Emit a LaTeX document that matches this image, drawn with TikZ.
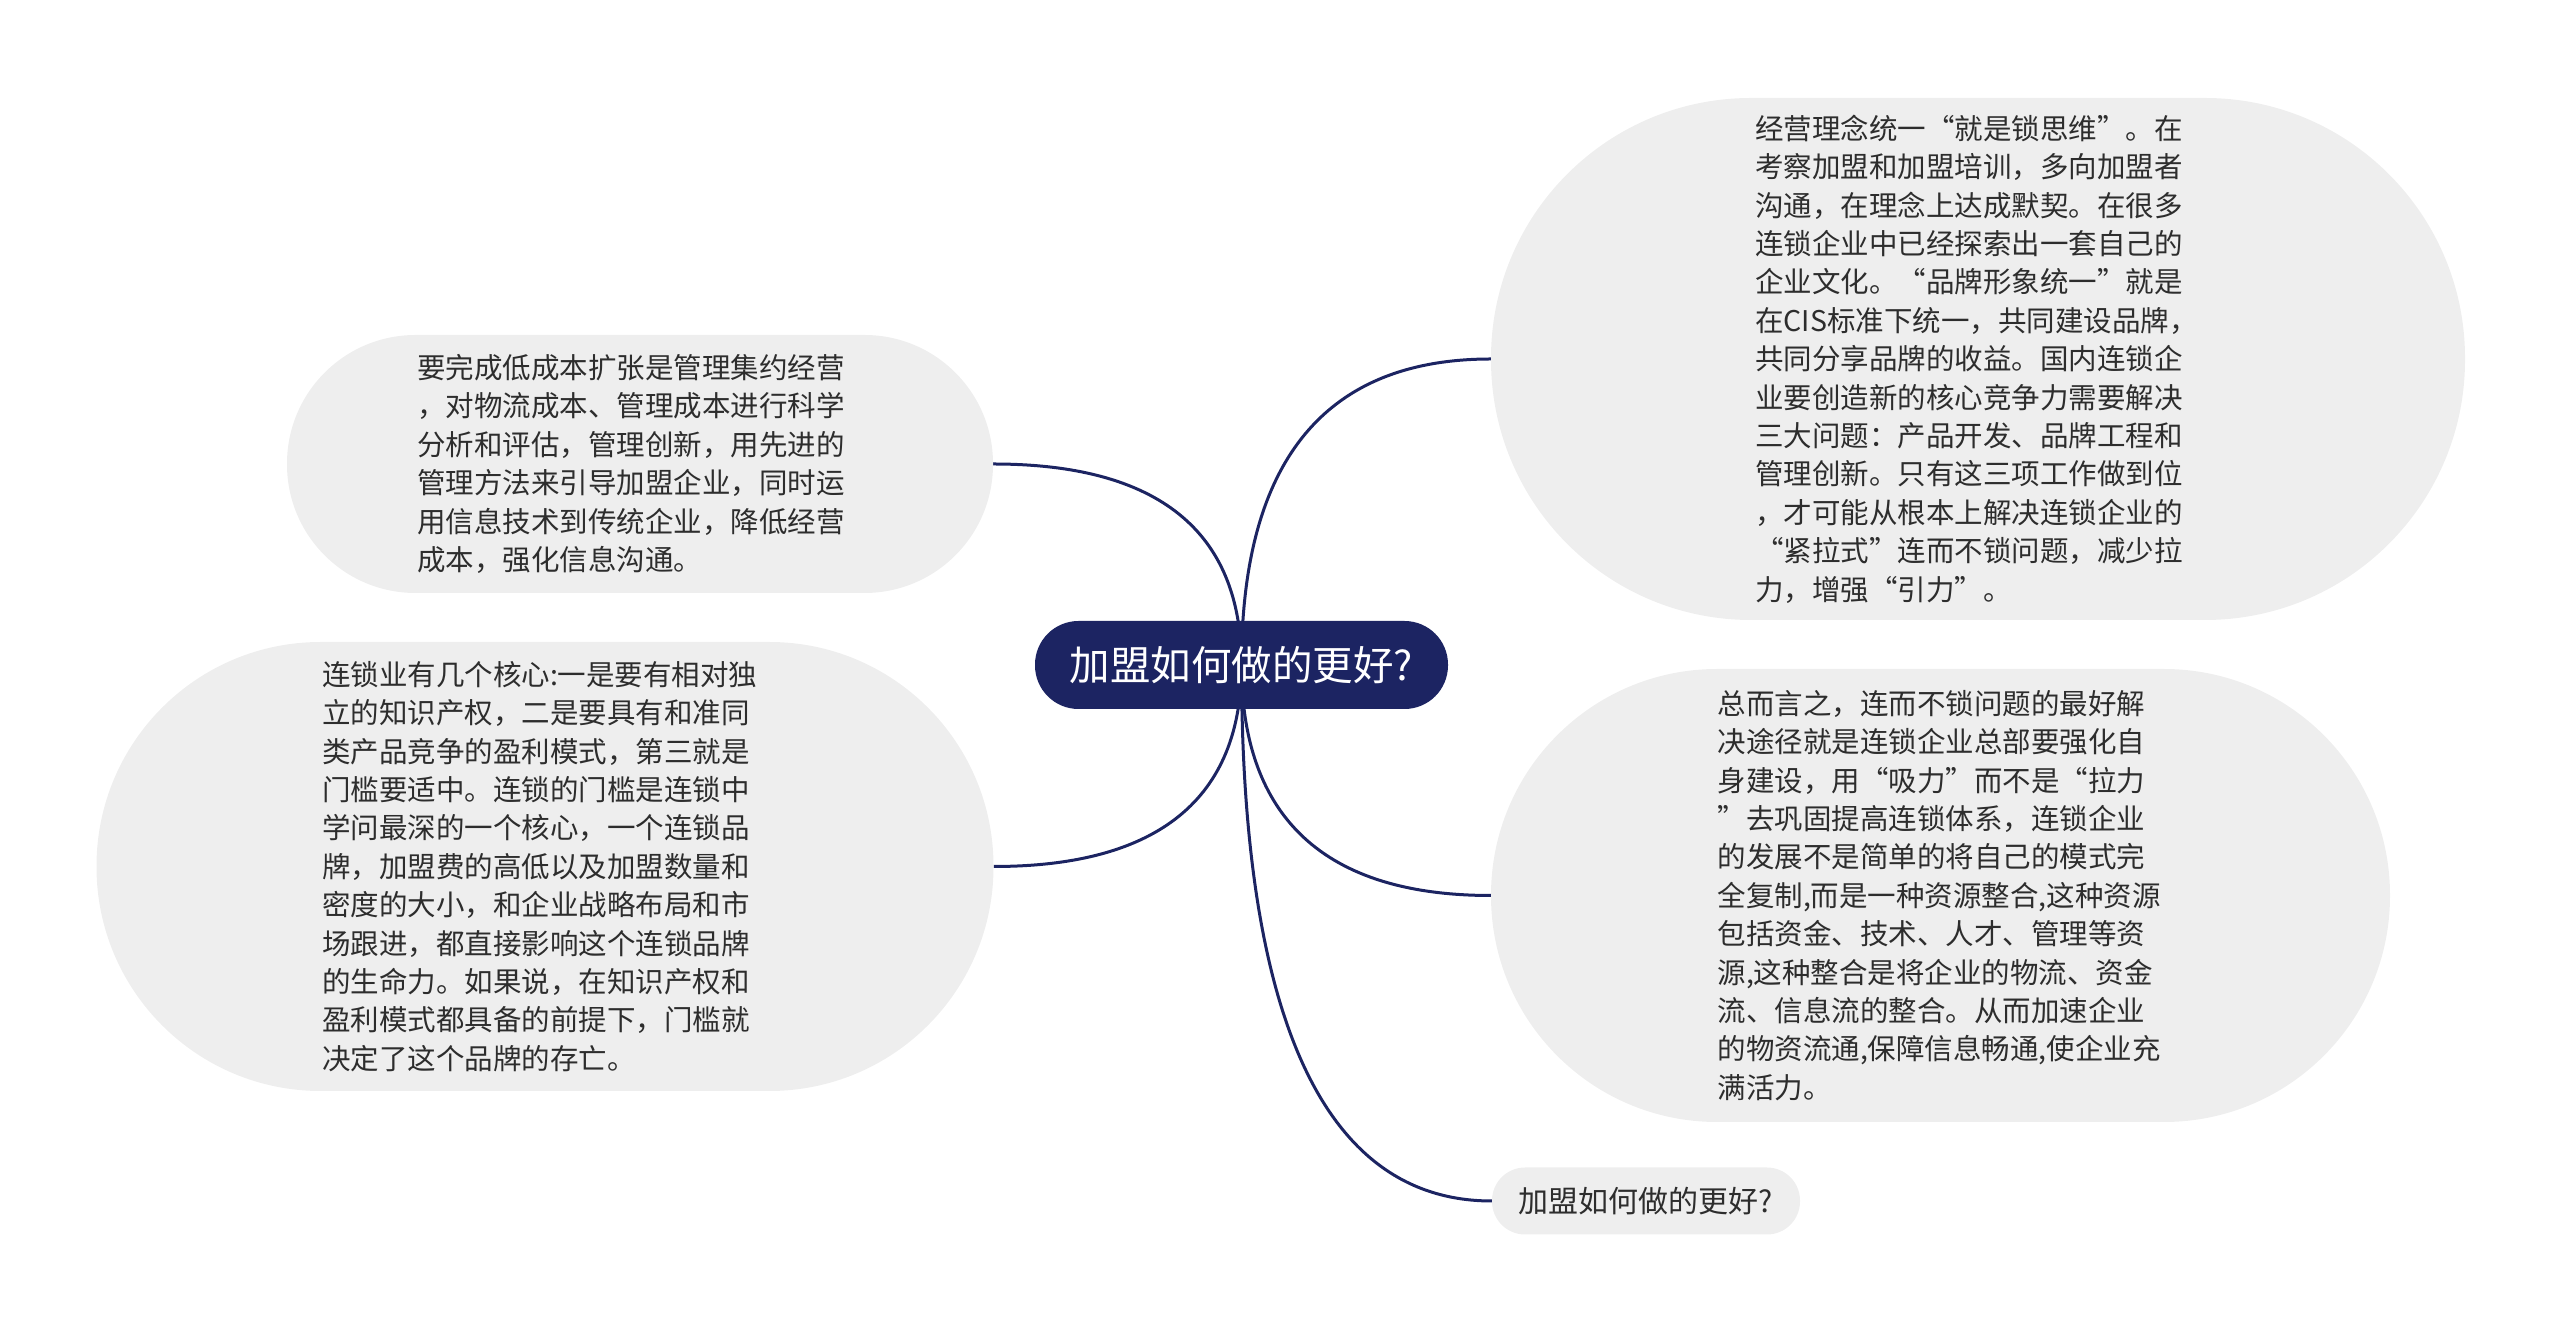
\documentclass[tikz,border=0pt]{standalone}
\usepackage{fontspec}
\setmainfont{Noto Sans CJK SC}
\usetikzlibrary{backgrounds}
\definecolor{navy}{RGB}{28,36,98}
\definecolor{bubblegray}{RGB}{238,238,238}
\definecolor{inkgray}{RGB}{45,45,45}
\begin{document}
\begin{tikzpicture}[x=1pt,y=1pt,
  bubble/.style={fill=bubblegray,text=inkgray,align=left,inner sep=0pt,text width=446pt,
    font=\fontsize{28.5}{38.4}\selectfont},
  branch/.style={draw=navy,line width=3pt}]
\useasboundingbox (0,0) rectangle (2560,1331);
% central topic
\node [fill=navy,text=white,rounded corners=43.5pt,minimum width=413pt,minimum height=88pt,
  inner sep=0pt,font=\fontsize{40.5}{48}\selectfont] (root) at (1241.5,666) {加盟如何做的更好?};
% right side
\node [bubble,rounded corners=260pt,minimum width=974pt,minimum height=522pt] (tr) at (1978,972) {经营理念统一“就是锁思维”。在\\考察加盟和加盟培训，多向加盟者\\沟通，在理念上达成默契。在很多\\连锁企业中已经探索出一套自己的\\企业文化。“品牌形象统一”就是\\在CIS标准下统一，共同建设品牌，\\共同分享品牌的收益。国内连锁企\\业要创造新的核心竞争力需要解决\\三大问题：产品开发、品牌工程和\\管理创新。只有这三项工作做到位\\，才可能从根本上解决连锁企业的\\“紧拉式”连而不锁问题，减少拉\\力，增强“引力”。};
\node [bubble,rounded corners=226pt,minimum width=899pt,minimum height=453pt] (br) at (1940.5,435.5) {总而言之，连而不锁问题的最好解\\决途径就是连锁企业总部要强化自\\身建设，用“吸力”而不是“拉力\\”去巩固提高连锁体系，连锁企业\\的发展不是简单的将自己的模式完\\全复制,而是一种资源整合,这种资源\\包括资金、技术、人才、管理等资\\源,这种整合是将企业的物流、资金\\流、信息流的整合。从而加速企业\\的物资流通,保障信息畅通,使企业充\\满活力。};
\node [bubble,text width=,align=center,rounded corners=33pt,minimum width=308pt,minimum height=67pt,
  font=\fontsize{30}{38}\selectfont] (bs) at (1646,130) {加盟如何做的更好?};
% left side
\node [bubble,rounded corners=128.5pt,minimum width=706pt,minimum height=258pt] (tl) at (640,867) {要完成低成本扩张是管理集约经营\\，对物流成本、管理成本进行科学\\分析和评估，管理创新，用先进的\\管理方法来引导加盟企业，同时运\\用信息技术到传统企业，降低经营\\成本，强化信息沟通。};
\node [bubble,rounded corners=224pt,minimum width=897pt,minimum height=449pt] (lm) at (545,464.5) {连锁业有几个核心:一是要有相对独\\立的知识产权，二是要具有和准同\\类产品竞争的盈利模式，第三就是\\门槛要适中。连锁的门槛是连锁中\\学问最深的一个核心，一个连锁品\\牌，加盟费的高低以及加盟数量和\\密度的大小，和企业战略布局和市\\场跟进，都直接影响这个连锁品牌\\的生命力。如果说，在知识产权和\\盈利模式都具备的前提下，门槛就\\决定了这个品牌的存亡。};
% branches
\begin{pgfonlayer}{background}
\draw [branch] (root.center) to [out=90,in=180,out looseness=1.32,in looseness=1.08] (tr.west);
\draw [branch] (root.center) to [out=90,in=0,out looseness=1.07,in looseness=1.32] (tl.east);
\draw [branch] (root.center) to [out=270,in=0,out looseness=1.07,in looseness=1.32] (lm.east);
\draw [branch] (root.center) to [out=270,in=180,out looseness=1.15,in looseness=1.25] (br.west);
\draw [branch] (root.center) to [out=270,in=180,out looseness=1.54,in looseness=0.72] (bs.west);
\end{pgfonlayer}
\end{tikzpicture}
\end{document}
